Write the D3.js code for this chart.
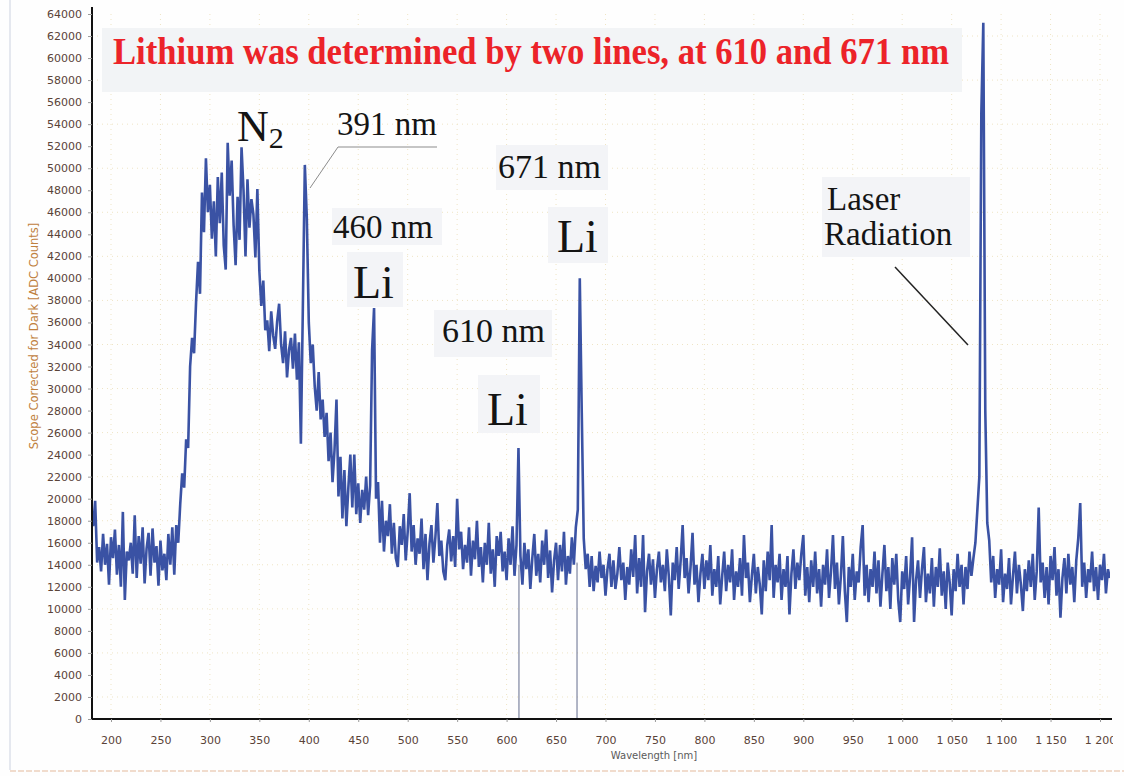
<!DOCTYPE html>
<html>
<head>
<meta charset="utf-8">
<script src="https://cdn.jsdelivr.net/npm/d3@7/dist/d3.min.js"></script>
<style>
  body { margin: 0; background: #ffffff; }
  .tick text { font-family: "DejaVu Sans", sans-serif; font-size: 11px; fill: #5a4338; }
  .ann { font-family: "Liberation Serif", "Times New Roman", serif; fill: #141414; }
</style>
</head>
<body>
<div id="svg-area"></div>
<script>
// LIBS spectrum - lithium lines

// spectrum: counts in thousands, one value every 2 nm from 182 nm
var wlStart = 182;
var wlStep = 2;
var spectrumK = [
  17.5, 19.8, 14.2, 15.6, 13.4, 16.8, 14.0, 15.9, 12.2, 16.5,   // 182
  14.6, 17.2, 13.1, 15.8, 12.0, 18.8, 10.8, 15.2, 14.4, 16.0,   // 202
  13.2, 18.5, 12.8, 16.6, 14.1, 17.4, 12.3, 15.5, 16.9, 13.0,   // 222
  17.3, 14.2, 15.7, 12.1, 16.2, 13.5, 15.0, 12.6, 16.8, 14.0,   // 242
  17.4, 13.1, 17.6, 16.0, 19.5, 22.3, 21.0, 25.4, 24.6, 32.0,   // 262
  34.6, 33.2, 37.8, 41.5, 38.6, 47.8, 44.2, 50.9, 46.0, 48.5,   // 282
  43.6, 47.0, 42.0, 49.2, 45.0, 49.6, 43.0, 40.8, 52.3, 47.5,   // 302
  50.7, 44.8, 41.2, 47.4, 43.5, 51.9, 48.0, 42.0, 49.0, 44.6,   // 322
  47.2, 45.8, 41.9, 48.1, 40.7, 37.5, 39.8, 35.3, 36.2, 33.4,   // 342
  37.0, 34.8, 33.6, 36.1, 37.7, 34.0, 32.3, 35.2, 31.0, 33.5,   // 362
  34.6, 31.8, 35.0, 30.8, 34.2, 25.0, 37.4, 50.3, 45.5, 36.0,   // 382
  32.3, 34.0, 30.2, 28.0, 31.5, 27.2, 29.0, 25.6, 27.8, 23.4,   // 402
  26.0, 21.5, 24.4, 29.0, 20.2, 23.8, 18.2, 22.6, 17.5, 21.0,   // 422
  24.0, 19.2, 24.0, 18.6, 21.4, 17.8, 20.8, 19.0, 22.0, 18.5,   // 442
  21.2, 33.5, 37.3, 20.0, 21.5, 16.0, 19.8, 15.2, 18.0, 16.6,   // 462
  19.5, 15.0, 17.8, 14.6, 13.8, 17.5, 15.8, 18.6, 14.4, 17.0,   // 482
  20.5, 15.2, 17.6, 14.0, 16.4, 15.0, 18.2, 13.6, 16.8, 12.6,   // 502
  15.9, 17.6, 14.2, 16.5, 19.6, 14.8, 16.2, 13.4, 12.6, 15.8,   // 522
  17.2, 14.3, 16.6, 13.8, 20.0, 15.4, 17.0, 13.6, 15.8, 14.2,   // 542
  17.4, 13.0, 16.2, 14.5, 18.0, 13.8, 15.6, 12.4, 16.0, 14.0,   // 562
  17.8, 13.2, 15.4, 12.0, 16.6, 14.8, 17.0, 13.4, 15.2, 12.6,   // 582
  16.4, 14.0, 17.5, 13.0, 15.8, 24.6, 14.8, 12.2, 16.0, 13.6,   // 602
  15.4, 11.8, 14.6, 16.8, 13.0, 15.0, 12.4, 16.2, 14.0, 17.2,   // 622
  12.8, 15.3, 11.5, 14.4, 16.0, 12.6, 15.8, 13.4, 17.0, 12.2,   // 642
  14.8, 13.2, 16.5, 14.0, 17.4, 19.0, 40.0, 27.8, 16.4, 13.6,   // 662
  15.0, 12.0, 14.8, 11.6, 13.9, 12.4, 15.2, 12.8, 14.0, 11.2,   // 682
  13.6, 15.0, 12.0, 14.4, 11.8, 13.2, 15.6, 12.6, 14.2, 10.8,   // 702
  13.8, 12.2, 15.4, 12.9, 16.7, 11.4, 14.6, 12.0, 16.7, 9.7,    // 722
  13.4, 15.0, 12.2, 14.5, 11.0, 13.6, 15.2, 12.4, 14.0, 11.6,   // 742
  15.4, 13.0, 9.4, 14.2, 12.6, 15.6, 11.8, 14.4, 17.6, 12.8,    // 762
  14.6, 11.4, 13.8, 16.9, 12.2, 14.0, 10.6, 13.2, 15.0, 11.8,   // 782
  14.4, 12.6, 15.8, 11.2, 13.6, 12.0, 14.8, 10.4, 13.0, 15.2,   // 802
  11.6, 14.0, 12.4, 15.4, 10.8, 13.4, 12.0, 14.6, 11.2, 16.7,   // 822
  12.8, 14.2, 10.6, 13.0, 15.0, 11.4, 13.8, 12.2, 9.5, 14.4,    // 842
  11.6, 15.2, 12.6, 17.6, 11.0, 14.0, 12.4, 15.0, 10.8, 13.6,   // 862
  12.0, 14.8, 9.5, 13.2, 15.4, 11.8, 14.2, 12.6, 15.0, 16.7,    // 882
  11.2, 13.8, 10.6, 14.4, 12.0, 15.2, 11.4, 13.6, 10.2, 14.0,   // 902
  12.2, 15.4, 11.0, 13.4, 16.7, 11.8, 14.2, 10.4, 13.0, 16.6,   // 922
  11.6, 8.8, 13.8, 12.0, 15.0, 10.8, 13.4, 12.4, 15.6, 17.6,    // 942
  11.2, 14.0, 10.6, 13.6, 12.0, 15.2, 11.4, 14.4, 10.2, 13.2,   // 962
  15.8, 11.6, 13.8, 10.0, 14.6, 12.2, 15.0, 10.8, 8.8, 13.4,    // 982
  11.8, 14.8, 10.4, 13.0, 16.5, 8.8, 12.6, 14.4, 11.0, 13.6,    // 1002
  15.6, 10.6, 13.2, 11.4, 14.6, 10.2, 13.8, 12.0, 15.5, 11.2,   // 1022
  13.4, 10.0, 14.2, 12.4, 9.4, 13.6, 11.6, 15.0, 12.0, 14.0,    // 1042
  10.4, 13.8, 11.8, 15.2, 13.0, 14.6, 16.0, 19.0, 22.0, 55.0,   // 1062
  63.2, 28.0, 17.8, 16.2, 12.4, 14.8, 11.0, 13.6, 12.2, 15.4,   // 1082
  10.6, 13.2, 11.8, 14.6, 10.4, 13.0, 15.2, 11.4, 14.0, 12.2,   // 1102
  9.8, 13.6, 11.6, 14.4, 12.0, 15.0, 10.8, 13.4, 19.2, 12.4,    // 1122
  14.2, 11.0, 13.8, 10.4, 14.8, 12.6, 15.6, 11.2, 13.6, 9.2,    // 1142
  12.8, 14.6, 11.4, 15.0, 12.2, 13.8, 10.6, 14.4, 16.4, 19.6,   // 1162
  12.0, 14.2, 11.0, 13.6, 12.4, 15.2, 11.6, 13.8, 10.8, 14.0,   // 1182
  12.6, 15.0, 11.4, 13.6, 12.8                                  // 1202
];

// detector dropouts that go down to zero
var dropNm = [612.5, 671.2];
var dropTopK = [14.0, 14.2];

// axis ticks
var xTicks = [200, 250, 300, 350, 400, 450, 500, 550, 600, 650, 700, 750, 800,
  850, 900, 950, 1000, 1050, 1100, 1150, 1200];
var yTicks = [0, 2000, 4000, 6000, 8000, 10000, 12000, 14000, 16000, 18000, 20000,
  22000, 24000, 26000, 28000, 30000, 32000, 34000, 36000, 38000, 40000, 42000,
  44000, 46000, 48000, 50000, 52000, 54000, 56000, 58000, 60000, 62000, 64000];
var yGrid = [2000, 6000, 10000, 14000, 18000, 22000, 26000, 30000, 34000, 38000,
  42000, 46000, 50000, 54000, 58000, 62000];

// svg container
var svgWidth = 1124;
var svgHeight = 776;

// plot area edges
var plot = { left: 92, right: 1110, top: 14, bottom: 719 };

var svg = d3.select("#svg-area").append("svg")
  .attr("width", svgWidth)
  .attr("height", svgHeight);

svg.append("rect")
  .attr("width", svgWidth)
  .attr("height", svgHeight)
  .attr("fill", "#fefefe");

// faint frame of the photographed screen
svg.append("line")
  .attr("x1", 10).attr("x2", 10).attr("y1", 0).attr("y2", 770)
  .attr("stroke", "#dde1ea").attr("stroke-width", 1.5);
svg.append("line")
  .attr("x1", 10).attr("x2", svgWidth).attr("y1", 771).attr("y2", 771)
  .attr("stroke", "#f1dccd").attr("stroke-width", 2)
  .attr("stroke-dasharray", "6,2");

// scales
// ==============================
var xScale = d3.scaleLinear()
  .domain([180.8, 1210.1])
  .range([plot.left, plot.right]);

var yScale = d3.scaleLinear()
  .domain([0, 64000])
  .range([plot.bottom, plot.top]);

// grid
// ==============================
svg.append("g").selectAll("line")
  .data(xTicks)
  .enter()
  .append("line")
  .attr("x1", d => xScale(d)).attr("x2", d => xScale(d))
  .attr("y1", plot.top).attr("y2", plot.bottom)
  .attr("stroke", "#efe4c4")
  .attr("stroke-width", 1)
  .attr("stroke-dasharray", "1,4");

svg.append("g").selectAll("line")
  .data(yGrid)
  .enter()
  .append("line")
  .attr("x1", plot.left).attr("x2", plot.right)
  .attr("y1", d => yScale(d)).attr("y2", d => yScale(d))
  .attr("stroke", "#efe4c4")
  .attr("stroke-width", 1)
  .attr("stroke-dasharray", "1,4");

// title box
// ==============================
svg.append("rect")
  .attr("x", 102).attr("y", 28)
  .attr("width", 860).attr("height", 64)
  .attr("fill", "#f2f4f6");

svg.append("text")
  .attr("x", 113)
  .attr("y", 64)
  .attr("textLength", 836)
  .attr("lengthAdjust", "spacingAndGlyphs")
  .style("font-family", "'Liberation Serif', 'Times New Roman', serif")
  .style("font-weight", "bold")
  .style("font-size", "38px")
  .style("fill", "#ec2329")
  .text("Lithium was determined by two lines, at 610 and 671 nm");

// spectrum
// ==============================
var spectrum = spectrumK.map(function(v, i) {
  return { nm: wlStart + i * wlStep, counts: v * 1000 };
});

svg.append("clipPath")
  .attr("id", "plot-clip")
  .append("rect")
  .attr("x", plot.left).attr("y", 0)
  .attr("width", plot.right - plot.left).attr("height", plot.bottom);

// dropout lines
svg.append("g").selectAll("line")
  .data(dropNm)
  .enter()
  .append("line")
  .attr("x1", d => xScale(d)).attr("x2", d => xScale(d))
  .attr("y1", (d, i) => yScale(dropTopK[i] * 1000))
  .attr("y2", yScale(0))
  .attr("stroke", "#646c8e")
  .attr("stroke-width", 1);

var line = d3.line()
  .x(d => xScale(d.nm))
  .y(d => yScale(d.counts));

svg.append("path")
  .datum(spectrum)
  .attr("clip-path", "url(#plot-clip)")
  .attr("d", line)
  .attr("fill", "none")
  .attr("stroke", "#3a52a4")
  .attr("stroke-width", 2.6)
  .attr("stroke-linejoin", "miter")
  .attr("stroke-miterlimit", 2);

// axes
// ==============================
var thinSpaceFormat = d3.formatLocale({
  decimal: ".", thousands: "\u00a0", grouping: [3], currency: ["", ""]
}).format(",");

var bottomAxis = d3.axisBottom(xScale)
  .tickValues(xTicks)
  .tickSize(3)
  .tickSizeOuter(0)
  .tickPadding(14)
  .tickFormat(thinSpaceFormat);

var leftAxis = d3.axisLeft(yScale)
  .tickValues(yTicks)
  .tickSize(4)
  .tickSizeOuter(0)
  .tickPadding(6)
  .tickFormat(d3.format("d"));

var xAxisG = svg.append("g")
  .attr("transform", `translate(0, ${plot.bottom})`)
  .call(bottomAxis);

var yAxisG = svg.append("g")
  .attr("transform", `translate(${plot.left}, 0)`)
  .call(leftAxis);

[xAxisG, yAxisG].forEach(function(g) {
  g.select(".domain").attr("stroke", "#111").attr("stroke-width", 2);
  g.selectAll(".tick line").attr("stroke", "#9a9a9a");
});

xAxisG.select(".domain").attr("d", `M${plot.left},0H${plot.right + 2}`);
yAxisG.select(".domain").attr("d", `M0,${plot.bottom + 1}V7`);

// axes labels
svg.append("text")
  .attr("transform", `translate(38, ${336}) rotate(-90)`)
  .attr("text-anchor", "middle")
  .style("font-family", "'DejaVu Sans', sans-serif")
  .style("font-size", "11.5px")
  .style("fill", "#c0813f")
  .text("Scope Corrected for Dark [ADC Counts]");

svg.append("text")
  .attr("x", 654)
  .attr("y", 759)
  .attr("text-anchor", "middle")
  .style("font-family", "'DejaVu Sans', sans-serif")
  .style("font-size", "10px")
  .style("fill", "#5a5a5a")
  .text("Wavelength [nm]");

// photo edge cuts the right side
svg.append("rect")
  .attr("x", 1113).attr("y", 0)
  .attr("width", svgWidth - 1113).attr("height", 770)
  .attr("fill", "#fefefe");

// annotations
// ==============================
var boxes = [
  { x: 496, y: 145, w: 112, h: 45 },
  { x: 332, y: 208, w: 110, h: 37 },
  { x: 347, y: 252, w: 56, h: 55 },
  { x: 434, y: 310, w: 118, h: 47 },
  { x: 478, y: 375, w: 62, h: 58 },
  { x: 548, y: 207, w: 60, h: 56 },
  { x: 822, y: 177, w: 148, h: 80 }
];

svg.append("g").selectAll("rect")
  .data(boxes)
  .enter()
  .append("rect")
  .attr("x", d => d.x).attr("y", d => d.y)
  .attr("width", d => d.w).attr("height", d => d.h)
  .attr("fill", "#f3f4f7");

var labels = [
  { text: "391 nm", x: 337, y: 135, size: 33 },
  { text: "671 nm", x: 498, y: 178, size: 34 },
  { text: "460 nm", x: 333, y: 238, size: 33 },
  { text: "Li", x: 353, y: 298, size: 46 },
  { text: "610 nm", x: 442, y: 342, size: 34 },
  { text: "Li", x: 487, y: 425, size: 46 },
  { text: "Li", x: 557, y: 252, size: 46 },
  { text: "Laser", x: 827, y: 210, size: 33 },
  { text: "Radiation", x: 824, y: 245, size: 33 }
];

svg.append("g").selectAll("text")
  .data(labels)
  .enter()
  .append("text")
  .attr("class", "ann")
  .attr("x", d => d.x)
  .attr("y", d => d.y)
  .style("font-size", d => d.size + "px")
  .text(d => d.text);

// N2 with subscript
var n2 = svg.append("text")
  .attr("class", "ann")
  .attr("x", 237)
  .attr("y", 141)
  .style("font-size", "44px");
n2.append("tspan").text("N");
n2.append("tspan")
  .attr("dy", 7)
  .style("font-size", "30px")
  .text("2");

// leader lines
svg.append("path")
  .attr("d", "M437,147H338L310,188")
  .attr("fill", "none")
  .attr("stroke", "#8c8c8c")
  .attr("stroke-width", 1);

svg.append("line")
  .attr("x1", 895).attr("y1", 267)
  .attr("x2", 968).attr("y2", 345)
  .attr("stroke", "#222")
  .attr("stroke-width", 1.5);
</script>
</body>
</html>
